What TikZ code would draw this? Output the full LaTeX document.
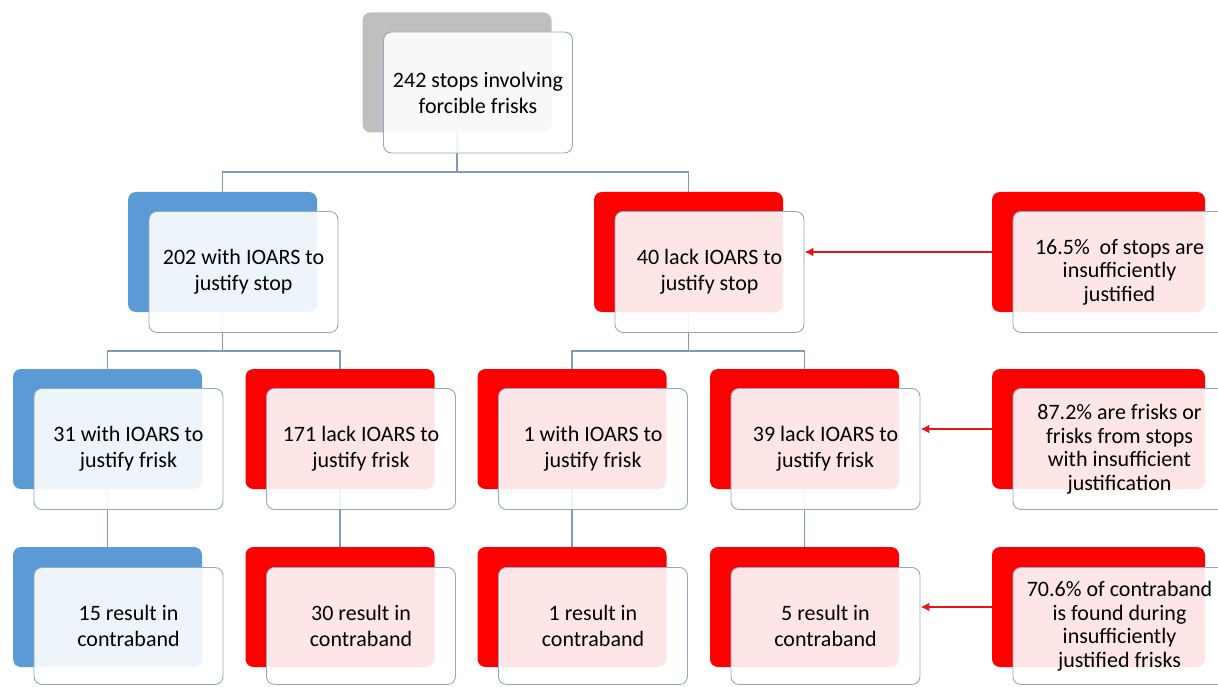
\documentclass[tikz,border=0pt]{standalone}
\usepackage{fontspec}
\setmainfont{Carlito}
\usetikzlibrary{arrows.meta,positioning}

\definecolor{ofblue}{HTML}{5B9BD5}
\definecolor{ofred}{HTML}{FF0000}
\definecolor{ofgray}{HTML}{BFBFBF}
\definecolor{edgeline}{HTML}{8FAAC9}
\definecolor{linkline}{HTML}{7F9BBA}
\definecolor{arrowred}{HTML}{E8141B}

\begin{document}
\begin{tikzpicture}[
x=1pt, y=-1pt,
backbox/.style={rounded corners=8pt, minimum width=189pt, minimum height=120pt, inner sep=0pt},
frontbox/.style={draw=edgeline, line width=0.9pt, fill=white, fill opacity=0.9, text opacity=1, rounded corners=8pt, minimum width=189pt, minimum height=121pt, align=center, inner sep=0pt, font=\fontsize{22}{26}\selectfont},
notebox/.style={frontbox, minimum width=213pt, font=\fontsize{22}{23.5}\selectfont},
link/.style={draw=linkline, line width=1.1pt},
arrow/.style={-{Latex[length=9pt, width=9pt]}, draw=arrowred, line width=2.6pt}
]
\useasboundingbox (0,0) rectangle (1218,687);
\clip (0,0) rectangle (1218,687);

% back boxes
\node[backbox, fill=ofgray] (t0b) at (457,72.5) {};
\node[backbox, fill=ofblue] (n1b) at (222.5,252) {};
\node[backbox, fill=ofred] (n2b) at (688.5,252) {};
\node[backbox, fill=ofblue] (n11b) at (107.5,429) {};
\node[backbox, fill=ofred] (n12b) at (340,429) {};
\node[backbox, fill=ofred] (n21b) at (572,429) {};
\node[backbox, fill=ofred] (n22b) at (804.5,429) {};
\node[backbox, fill=ofblue] (n111b) at (107.5,607) {};
\node[backbox, fill=ofred] (n121b) at (340,607) {};
\node[backbox, fill=ofred] (n211b) at (572,607) {};
\node[backbox, fill=ofred] (n221b) at (804.5,607) {};
\node[backbox, fill=ofred, minimum width=213pt] (s1b) at (1098.5,252) {};
\node[backbox, fill=ofred, minimum width=213pt] (s2b) at (1098.5,429) {};
\node[backbox, fill=ofred, minimum width=213pt] (s3b) at (1098.5,607) {};

% tree lines
\coordinate (j0) at (457,172);
\coordinate (j1) at (222.5,351);
\coordinate (j2) at (688.5,351);
\draw[link] (t0b.south) -- (j0);
\draw[link] (n1b.north) |- (j0) -| (n2b.north);
\draw[link] (n1b.south) -- (j1);
\draw[link] (n11b.north) |- (j1) -| (n12b.north);
\draw[link] (n2b.south) -- (j2);
\draw[link] (n21b.north) |- (j2) -| (n22b.north);
\draw[link] (n11b.south) -- (n111b.north);
\draw[link] (n12b.south) -- (n121b.north);
\draw[link] (n21b.south) -- (n211b.north);
\draw[link] (n22b.south) -- (n221b.north);

% front boxes
\node[frontbox] (t0) at ([shift={(21,20)}]t0b.center) {242 stops involving\\forcible frisks};
\node[frontbox] (n1) at ([shift={(21,20)}]n1b.center) {202 with IOARS to\\justify stop};
\node[frontbox] (n2) at ([shift={(21,20)}]n2b.center) {40 lack IOARS to\\justify stop};
\node[frontbox] (n11) at ([shift={(21,20)}]n11b.center) {31 with IOARS to\\justify frisk};
\node[frontbox] (n12) at ([shift={(21,20)}]n12b.center) {171 lack IOARS to\\justify frisk};
\node[frontbox] (n21) at ([shift={(21,20)}]n21b.center) {1 with IOARS to\\justify frisk};
\node[frontbox] (n22) at ([shift={(21,20)}]n22b.center) {39 lack IOARS to\\justify frisk};
\node[frontbox, minimum height=117pt] (n111) at ([shift={(21,19)}]n111b.center) {15 result in\\contraband};
\node[frontbox, minimum height=117pt] (n121) at ([shift={(21,19)}]n121b.center) {30 result in\\contraband};
\node[frontbox, minimum height=117pt] (n211) at ([shift={(21,19)}]n211b.center) {1 result in\\contraband};
\node[frontbox, minimum height=117pt] (n221) at ([shift={(21,19)}]n221b.center) {5 result in\\contraband};
\node[notebox] (s1) at ([shift={(21,20)}]s1b.center) {16.5\%\ \ of stops are\\insufficiently\\justified};
\node[notebox] (s2) at ([shift={(21,20)}]s2b.center) {87.2\% are frisks or\\frisks from stops\\with insufficient\\justification};
\node[notebox, minimum height=117pt] (s3) at ([shift={(21,19)}]s3b.center) {70.6\% of contraband\\is found during\\insufficiently\\justified frisks};

% arrows
\draw[arrow] (s1b.west) -- (s1b.west -| n2.east);
\draw[arrow] (s2b.west) -- (s2b.west -| n22.east);
\draw[arrow] (s3b.west) -- (s3b.west -| n221.east);
\end{tikzpicture}
\end{document}
